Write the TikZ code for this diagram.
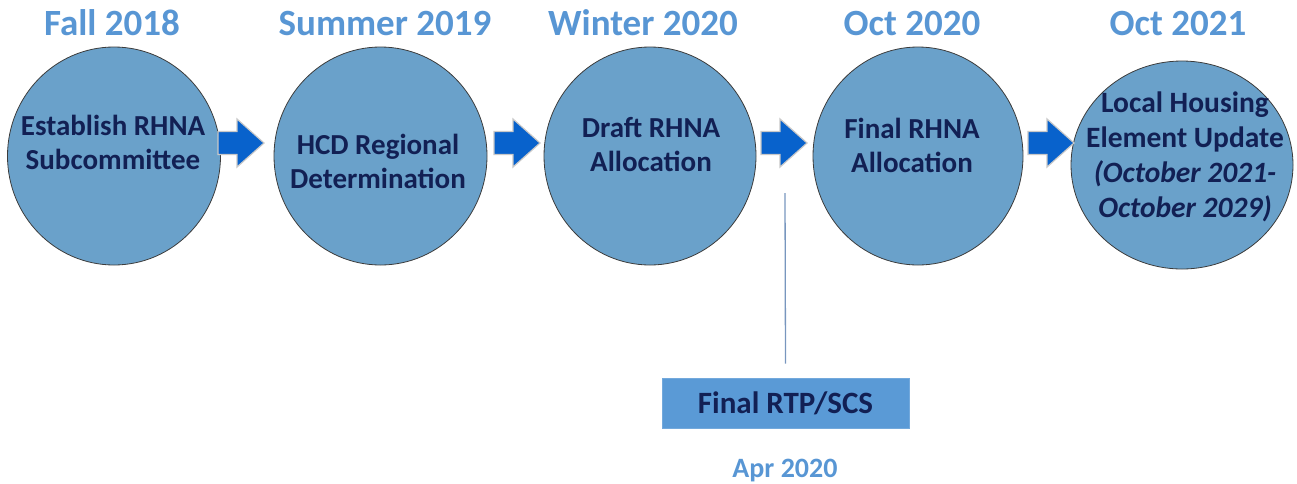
\documentclass[tikz,border=0pt]{standalone}
\usepackage{fontspec}
\setmainfont{Carlito}
\usetikzlibrary{shapes.geometric}
\definecolor{headblue}{RGB}{88,150,212}
\definecolor{circfill}{RGB}{106,161,202}
\definecolor{circline}{RGB}{60,60,60}
\definecolor{arrfill}{RGB}{8,98,204}
\definecolor{arrline}{RGB}{200,200,200}
\definecolor{boxfill}{RGB}{90,154,214}
\definecolor{navy}{RGB}{18,32,84}
\definecolor{vline}{RGB}{120,150,190}
\tikzset{
  phase/.style={ellipse, draw=circline, line width=0.8pt, fill=circfill, inner sep=0pt},
  head/.style={anchor=base, text=headblue, font=\fontsize{37}{40}\selectfont\bfseries},
  ctext/.style={align=center, text=navy, font=\fontsize{29}{34}\selectfont\bfseries, inner sep=0pt},
  arrowstyle/.style={fill=arrfill, draw=arrline, line width=1.2pt, line join=miter},
  barrow/.pic={\path[arrowstyle] (0,-11.5) -- (19,-11.5) -- (19,-24) -- (46,0) -- (19,24) -- (19,11.5) -- (0,11.5) -- cycle;},
  rtpbox/.style={rectangle, fill=boxfill, draw=boxfill!85!white, line width=0.6pt, minimum width=247pt, minimum height=50pt, inner sep=0pt, text=navy, font=\fontsize{31}{34}\selectfont\bfseries},
  datelabel/.style={anchor=base, text=headblue, font=\fontsize{28}{32}\selectfont\bfseries}
}
\begin{document}
\begin{tikzpicture}[x=1pt, y=-1pt]
\useasboundingbox (0,0) rectangle (1297,483);
% headings
\node[head] (h1) at (112,35) {Fall 2018};
\node[head] (h2) at (385,35) {Summer 2019};
\node[head] (h3) at (643,35) {Winter 2020};
\node[head] (h4) at (912,35) {Oct 2020};
\node[head] (h5) at (1178,35) {Oct 2021};
% circles
\node[phase, minimum width=213pt, minimum height=218pt] (c1) at (114,156) {};
\node[phase, minimum width=213pt, minimum height=218pt] (c2) at (380.5,156) {};
\node[phase, minimum width=212pt, minimum height=218pt] (c3) at (650,156) {};
\node[phase, minimum width=210pt, minimum height=218pt] (c4) at (918,156) {};
\node[phase, minimum width=222pt, minimum height=208pt] (c5) at (1182,165) {};
% circle texts
\node[ctext] (t1) at (113,142) {Establish RHNA\\Subcommittee};
\node[ctext] (t2) at (378,161) {HCD Regional\\Determination};
\node[ctext] (t3) at (651,145) {Draft RHNA\\Allocation};
\node[ctext] (t4) at (912,145) {Final RHNA\\Allocation};
\node[ctext, font=\fontsize{29.5}{35}\selectfont\bfseries] (t5) at (1185,157) {Local Housing\\Element Update\\\textit{(October 2021-}\\\textit{October 2029)}};
% block arrows
\pic (a1) at (218,143) {barrow};
\pic (a2) at (494,143) {barrow};
\pic (a3) at (761,143) {barrow};
\pic (a4) at (1028,143) {barrow};
% RTP/SCS
\node[rtpbox] (box) at (785.5,403) {Final RTP/SCS};
\coordinate (ltop) at (785,193);
\draw[vline, line width=1.3pt] (ltop) -- ([yshift=14pt]box.north);
\node[datelabel] (apr) at (785,477) {Apr 2020};
\end{tikzpicture}
\end{document}
